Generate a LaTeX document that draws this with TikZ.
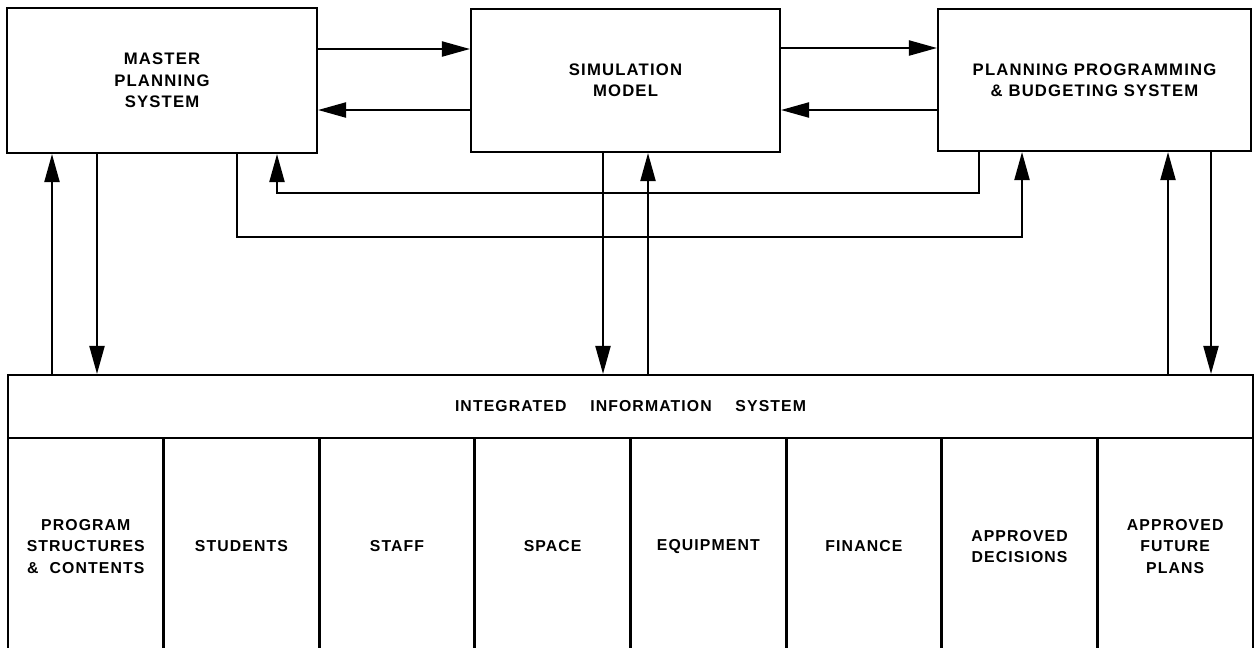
\documentclass[tikz,border=0pt]{standalone}
\usepackage{fontspec}
\newfontfamily\diafont{Liberation Sans}[LetterSpace=7]
\usetikzlibrary{arrows.meta}

\tikzset{
  sysbox/.style={draw, line width=1.2pt, align=center, inner sep=0pt, font=\diafont\bfseries\fontsize{9.5}{12.2}\selectfont},
  colbox/.style={align=center, inner sep=0pt, minimum width=3.1125cm, minimum height=4.34cm, font=\diafont\bfseries\fontsize{9}{12}\selectfont},
  sysline/.style={line width=1.2pt},
  sysarr/.style={-{Triangle[length=0.56cm, width=0.3cm]}, line width=1.2pt}
}

\begin{document}
\begin{tikzpicture}[x=0.02cm, y=-0.02cm]
    \useasboundingbox (0,0) rectangle (1254,647);

    \node[sysbox, minimum width=6.2cm, minimum height=2.9cm] (mps) at (162,80.5) {MASTER\\PLANNING\\SYSTEM};
    \node[sysbox, minimum width=6.18cm, minimum height=2.86cm] (sim) at (625.5,80.5) {SIMULATION\\MODEL};
    \node[sysbox, minimum width=6.26cm, minimum height=2.84cm] (ppbs) at (1094.5,80) {PLANNING PROGRAMMING\\\& BUDGETING SYSTEM};
    \node[sysbox, font=\diafont\bfseries\fontsize{9}{12}\selectfont, minimum width=24.9cm, minimum height=1.26cm] (iis) at (630.5,406.5) {INTEGRATED\hspace{1.5em}INFORMATION\hspace{1.5em}SYSTEM};

    \foreach \lab [count=\i from 0] in {{PROGRAM\\STRUCTURES\\\&\hspace{0.7em}CONTENTS}, STUDENTS, STAFF, SPACE, EQUIPMENT, FINANCE, {APPROVED\\DECISIONS}, {APPROVED\\FUTURE\\PLANS}}
    {
        \node[colbox] (col\i) at (85.8+155.625*\i,546.5) {\lab};
        \draw[sysline] (col\i.south west) -- (col\i.north west) -- (col\i.north east) -- (col\i.south east);
    }

    \draw[sysarr] (mps.east |- 0,49) -- (sim.west |- 0,49);
    \draw[sysarr] (sim.west |- 0,110) -- (mps.east |- 0,110);
    \draw[sysarr] (sim.east |- 0,48) -- (ppbs.west |- 0,48);
    \draw[sysarr] (ppbs.west |- 0,110) -- (sim.east |- 0,110);

    \draw[sysarr] (iis.north -| 52,0) -- (mps.south -| 52,0);
    \draw[sysarr] (mps.south -| 97,0) -- (iis.north -| 97,0);
    \draw[sysarr] (sim.south -| 603,0) -- (iis.north -| 603,0);
    \draw[sysarr] (iis.north -| 648,0) -- (sim.south -| 648,0);
    \draw[sysarr] (iis.north -| 1168,0) -- (ppbs.south -| 1168,0);
    \draw[sysarr] (ppbs.south -| 1211,0) -- (iis.north -| 1211,0);

    \draw[sysarr] (mps.south -| 237,0) |- (1022,237) -- (ppbs.south -| 1022,0);
    \draw[sysarr] (ppbs.south -| 979,0) |- (277,193) -- (mps.south -| 277,0);
\end{tikzpicture}
\end{document}
